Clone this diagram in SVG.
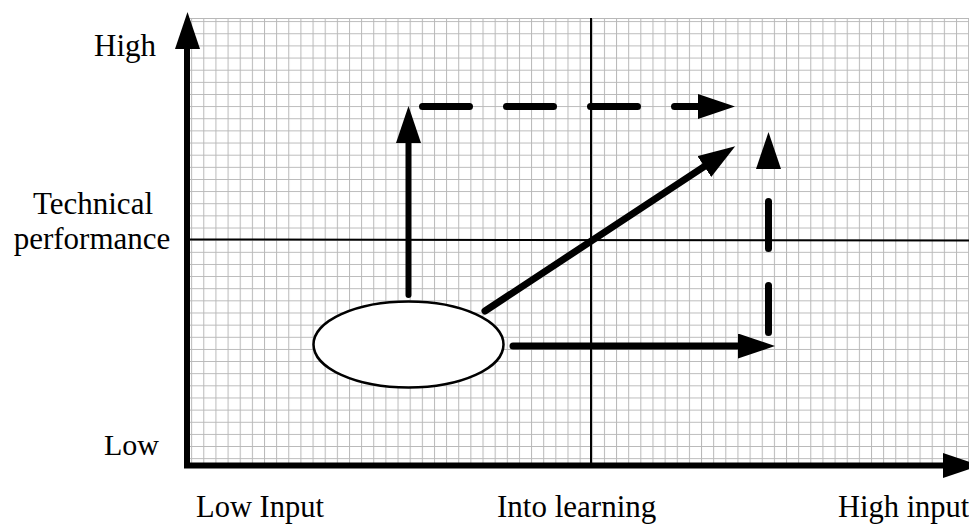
<svg xmlns="http://www.w3.org/2000/svg" width="969" height="524" viewBox="0 0 969 524">
<style>
.lbl{font-family:"Liberation Serif","Times New Roman",serif;fill:#000;}
.ax{stroke:#000;stroke-width:6;fill:none;}
.thin{stroke:#000;stroke-width:2;fill:none;}
.arr{stroke:#000;stroke-width:7;fill:none;stroke-linecap:round;marker-end:url(#head);}
.dash{stroke-dasharray:47 37;}
.grid{stroke:#b8b8b8;stroke-width:1;}
</style>
<defs>
<pattern id="gp" patternUnits="userSpaceOnUse" x="203.3" y="33.3" width="12.14" height="12.14">
<path d="M0.5,0 V12.14 M0,0.5 H12.14" class="grid" fill="none"/>
</pattern>
<marker id="head" markerUnits="userSpaceOnUse" markerWidth="40" markerHeight="26" refX="2" refY="12.5" orient="auto">
<path d="M0,0 L37,12.5 L0,25 Z" fill="#000"/>
</marker>
</defs>
<rect width="969" height="524" fill="#fff"/>
<g id="grid">
<rect x="187" y="18" width="782" height="447" fill="url(#gp)"/>
<line x1="187" y1="18.5" x2="969" y2="18.5" class="grid"/>
</g>
<g id="quadrant-lines">
<line x1="591" y1="18" x2="591" y2="465" class="thin"/>
<line x1="187" y1="239.5" x2="969" y2="240.5" class="thin"/>
</g>
<g id="axes">
<polyline points="187,49 187,465.5 945,465.5" class="ax"/>
<polygon points="187.5,12 175,49 200,49" fill="#000"/>
<polygon points="943,453 943,478 980,465.5" fill="#000"/>
</g>
<g id="labels">
<text class="lbl" x="156" y="56" font-size="31" text-anchor="end">High</text>
<text class="lbl" x="93" y="214" font-size="31" text-anchor="middle">Technical</text>
<text class="lbl" x="92" y="249" font-size="31" text-anchor="middle">performance</text>
<text class="lbl" x="159" y="455" font-size="30" text-anchor="end">Low</text>
<text class="lbl" x="196" y="517" font-size="30.5">Low Input</text>
<text class="lbl" x="497" y="517" font-size="31">Into learning</text>
<text class="lbl" x="838" y="517" font-size="30.5">High input</text>
</g>
<g id="connectors">
<line x1="408.5" y1="295" x2="408.5" y2="141" class="arr" style="stroke-width:6"/>
<path d="M422.5,106.5 H700" class="arr dash"/>
<line x1="485" y1="311" x2="706" y2="165.4" class="arr"/>
<path d="M768.5,332.5 V167" class="arr dash"/>
<line x1="513" y1="346" x2="740" y2="346" class="arr"/>
</g>
<g id="start-node">
<ellipse cx="408.5" cy="344.5" rx="95" ry="43" fill="#fff" stroke="#000" stroke-width="2.5"/>
</g>
</svg>
